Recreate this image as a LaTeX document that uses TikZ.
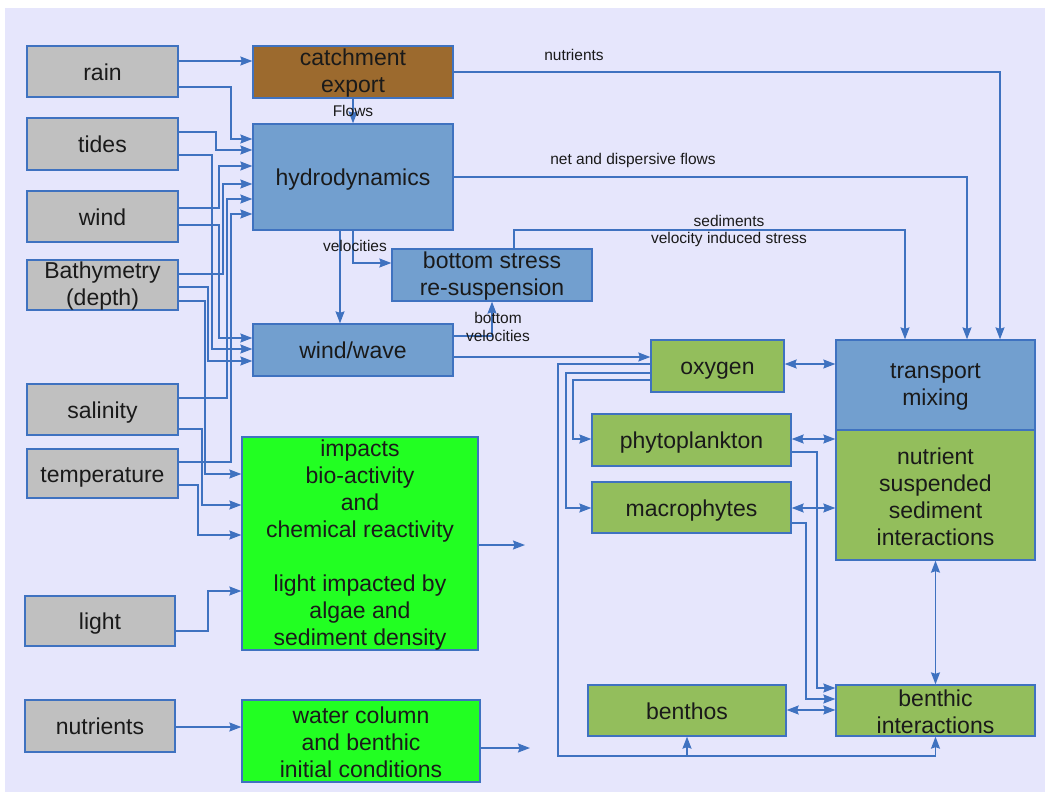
\documentclass[tikz,border=0pt]{standalone}
\usepackage{fontspec}
\setmainfont{Liberation Sans}
\usetikzlibrary{arrows.meta}
\definecolor{bgcol}{HTML}{E6E6FC}
\definecolor{linecol}{HTML}{3F72C0}
\definecolor{graycol}{HTML}{C0C0C0}
\definecolor{bluecol}{HTML}{729FCF}
\definecolor{greencol}{HTML}{93BE5C}
\definecolor{brightgreen}{HTML}{22FF22}
\definecolor{browncol}{HTML}{9C6A2E}
\definecolor{textcol}{HTML}{1A1A1A}
\begin{document}
\begin{tikzpicture}[x=1pt,y=-1pt,
  box/.style={draw=linecol, line width=1.3pt, align=center, inner sep=0pt, text=textcol,
    font=\fontsize{23}{27}\selectfont,
    execute at begin node={\rule{0pt}{0.98em}},
    execute at end node={\rule[-0.212em]{0pt}{0.212em}}},
  boxtext/.style={align=center, inner sep=0pt, text=textcol, font=\fontsize{23}{27}\selectfont, yshift=-1.5pt},
  graybox/.style={box, fill=graycol},
  bluebox/.style={box, fill=bluecol},
  greenbox/.style={box, fill=greencol},
  brightbox/.style={box, fill=brightgreen},
  brownbox/.style={box, fill=browncol},
  lbl/.style={font=\fontsize{15.5}{18}\selectfont, text=textcol, align=center, inner sep=0pt},
  arr/.style={draw=linecol, line width=1.4pt, -{Stealth[length=12pt,width=9pt,inset=1.5pt]}},
  darr/.style={draw=linecol, line width=1.4pt, {Stealth[length=12pt,width=9pt,inset=1.5pt]}-{Stealth[length=12pt,width=9pt,inset=1.5pt]}}
]
\useasboundingbox (0,0) rectangle (1045,792);
\fill[bgcol] (5,8) rectangle (1045,792);

% left inputs
\node[graybox, minimum width=151pt, minimum height=51pt] (rain) at (102.5,71.5) {rain};
\node[graybox, minimum width=151pt, minimum height=52pt] (tides) at (102.5,144) {tides};
\node[graybox, minimum width=151pt, minimum height=51pt] (wind) at (102.5,216.5) {wind};
\node[graybox, minimum width=151pt, minimum height=50pt, label={[boxtext]center:Bathymetry\\(depth)}] (bathy) at (102.5,285) {};
\node[graybox, minimum width=151pt, minimum height=51pt] (sal) at (102.5,409.5) {salinity};
\node[graybox, minimum width=151pt, minimum height=49pt] (temp) at (102.5,473.5) {temperature};
\node[graybox, minimum width=150pt, minimum height=50pt] (light) at (100,621) {light};
\node[graybox, minimum width=150pt, minimum height=52pt] (nutr) at (100,726) {nutrients};

% middle
\node[brownbox, minimum width=200pt, minimum height=52pt, label={[boxtext]center:catchment\\export}] (catch) at (353,72) {};
\node[bluebox, minimum width=200pt, minimum height=106pt] (hydro) at (353,177) {hydrodynamics};
\node[bluebox, minimum width=200pt, minimum height=52pt, label={[boxtext]center:bottom stress\\re-suspension}] (bstress) at (492,275) {};
\node[bluebox, minimum width=200pt, minimum height=52pt] (wave) at (353,350) {wind/wave};
\node[brightbox, minimum width=236pt, minimum height=213pt,
  label={[boxtext]center:impacts\\bio-activity\\and\\chemical reactivity\\[27pt]light impacted by\\algae and\\sediment density}] (impacts) at (360,543.5) {};
\node[brightbox, minimum width=238pt, minimum height=82pt,
  label={[boxtext]center:water column\\and benthic\\initial conditions}] (water) at (361,741) {};

% right
\node[greenbox, minimum width=133pt, minimum height=52pt] (oxygen) at (717.5,366) {oxygen};
\node[greenbox, minimum width=199pt, minimum height=52pt] (phyto) at (691.5,440) {phytoplankton};
\node[greenbox, minimum width=199pt, minimum height=51pt] (macro) at (691.5,507.5) {macrophytes};
\node[bluebox, minimum width=199pt, minimum height=90pt, label={[boxtext]center:transport\\mixing}] (transport) at (935.5,385) {};
\node[greenbox, minimum width=199pt, minimum height=130pt, label={[boxtext]center:nutrient\\suspended\\sediment\\interactions}] (nutrient) at (935.5,495) {};
\node[greenbox, minimum width=198pt, minimum height=51pt] (benthos) at (687,710.5) {benthos};
\node[greenbox, minimum width=199pt, minimum height=51pt, label={[boxtext]center:benthic\\interactions}] (benthic) at (935.5,710.5) {};

% free ends
\coordinate (out1) at (525,545);
\coordinate (out2) at (530,748);

% left wiring
\draw[arr] (rain.east |- 0,61) -- (catch.west |- 0,61);
\draw[arr] (rain.east |- 0,87) -| (231,139) -- (hydro.west |- 0,139);
\draw[arr] (tides.east |- 0,132) -| (216,150) -- (hydro.west |- 0,150);
\draw[arr] (tides.east |- 0,155) -| (212,349) -- (wave.west |- 0,349);
\draw[arr] (wind.east |- 0,208) -| (219,166) -- (hydro.west |- 0,166);
\draw[arr] (wind.east |- 0,225) -| (219,338) -- (wave.west |- 0,338);
\draw[arr] (bathy.east |- 0,274) -| (223,184) -- (hydro.west |- 0,184);
\draw[arr] (bathy.east |- 0,287) -| (208,361) -- (wave.west |- 0,361);
\draw[arr] (bathy.east |- 0,301) -| (205,474) -- (impacts.west |- 0,474);
\draw[arr] (sal.east |- 0,398) -| (227,199) -- (hydro.west |- 0,199);
\draw[arr] (sal.east |- 0,429) -| (202,505) -- (impacts.west |- 0,505);
\draw[arr] (temp.east |- 0,462) -| (231,214) -- (hydro.west |- 0,214);
\draw[arr] (temp.east |- 0,485) -| (198,535) -- (impacts.west |- 0,535);
\draw[arr] (light.east |- 0,631) -| (208,591) -- (impacts.west |- 0,591);
\draw[arr] (nutr.east |- 0,727) -- (water.west |- 0,727);
\draw[arr] (impacts.east |- 0,545) -- (out1);
\draw[arr] (water.east |- 0,748) -- (out2);

% middle wiring
\draw[arr] (catch.south) -- (hydro.north);
\node[lbl] (lflows) at (353,111) {Flows};
\draw[arr] (catch.east) -| ([xshift=64.5pt]transport.north);
\node[lbl] (lnutr) at (574,55) {nutrients};
\draw[arr] (hydro.east) -| ([xshift=31.5pt]transport.north);
\node[lbl] (lnet) at (633,160) {net and dispersive flows};
\draw[arr] ([xshift=-13pt]hydro.south) -- ([xshift=-13pt]wave.north);
\draw[arr] (hydro.south) |- ([yshift=12pt]bstress.west);
\node[lbl] (lvel) at (355,246) {velocities};
\draw[arr] ([xshift=22pt]bstress.north) |- (905,230) -- ([xshift=-30.5pt]transport.north);
\node[lbl] (lsed) at (729,221) {sediments};
\node[lbl] (lvis) at (729,239) {velocity induced stress};
\draw[arr] ([yshift=14pt]wave.east) -| (bstress.south);
\node[lbl] (lbv) at (498,327) {bottom\\velocities};
\draw[arr] ([yshift=-7pt]wave.east) -- (oxygen.west |- 0,357);

% right wiring
\draw[darr] (oxygen.east |- 0,364) -- (transport.west |- 0,364);
\draw[arr] (oxygen.west |- 0,364) -| (558,756) -| (benthos.south);
\draw[arr] (558,756) -| (benthic.south);
\draw[arr] (oxygen.west |- 0,373) -| (566,508) -- (macro.west |- 0,508);
\draw[arr] (oxygen.west |- 0,380) -| (573,439) -- (phyto.west |- 0,439);
\draw[darr] (phyto.east |- 0,439) -- (nutrient.west |- 0,439);
\draw[darr] (macro.east |- 0,508) -- (nutrient.west |- 0,508);
\draw[arr] (phyto.east |- 0,452) -| (817,688) -- (benthic.west |- 0,688);
\draw[arr] (macro.east |- 0,523) -| (806,699) -- (benthic.west |- 0,699);
\draw[darr] (benthos.east |- 0,710) -- (benthic.west |- 0,710);
\draw[darr] (nutrient.south) -- (benthic.north);
\end{tikzpicture}
\end{document}
